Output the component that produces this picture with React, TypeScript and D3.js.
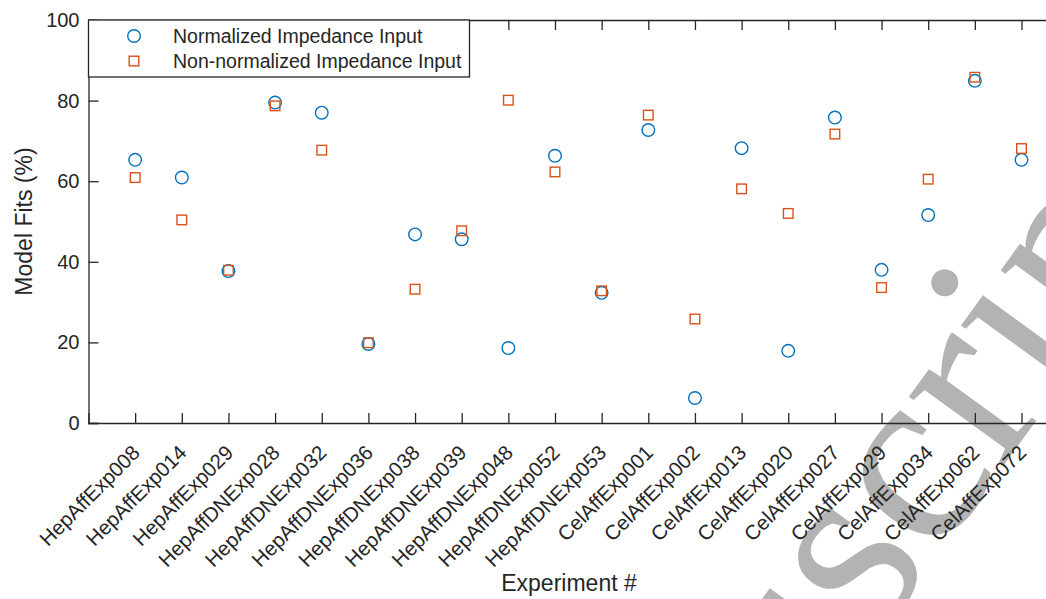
import React, { useEffect, useRef } from 'react';
import * as d3 from 'd3';

// experiment names along the x axis
const experiments = [
  'HepAffExp008', 'HepAffExp014', 'HepAffExp029', 'HepAffDNExp028', 'HepAffDNExp032',
  'HepAffDNExp036', 'HepAffDNExp038', 'HepAffDNExp039', 'HepAffDNExp048', 'HepAffDNExp052',
  'HepAffDNExp053', 'CelAffExp001', 'CelAffExp002', 'CelAffExp013', 'CelAffExp020',
  'CelAffExp027', 'CelAffExp029', 'CelAffExp034', 'CelAffExp062', 'CelAffExp072',
];

// model fits (%)
const normalizedFits = [
  65.3, 60.9, 37.7, 79.5, 77.0, 19.6, 46.8, 45.6, 18.6, 66.3,
  32.3, 72.7, 6.2, 68.2, 17.9, 75.8, 38.0, 51.6, 84.9, 65.3,
];
const nonNormalizedFits = [
  60.9, 50.4, 37.9, 78.7, 67.7, 19.9, 33.2, 47.7, 80.1, 62.3,
  32.8, 76.4, 25.8, 58.1, 52.0, 71.7, 33.6, 60.5, 85.8, 68.1,
];

const yTicks = [0, 20, 40, 60, 80, 100];
const seriesNames = ['Normalized Impedance Input', 'Non-normalized Impedance Input'];

const App = () => {
  const svgRef = useRef(null);

  useEffect(() => {
    if (!svgRef.current) return;
    const width = 1046;
    const height = 599;
    const left = 88.5;
    const top = 20;
    const bottom = 423;
    const step = 46.65;
    const axisColor = '#262626';
    const blue = '#0072BD';
    const orange = '#D95319';
    const font = '"Liberation Sans", Arial, Helvetica, sans-serif';

    const svg = d3.select(svgRef.current);
    svg.selectAll('*').remove();
    svg.attr('width', width).attr('height', height);

    // x positions: categories at 1..20, axis limits 0..21
    const xScale = d3.scaleLinear().domain([0, experiments.length + 1]).range([left, left + step * (experiments.length + 1)]);
    const yScale = d3.scaleLinear().domain([0, 100]).range([bottom, top]);

    // watermark underneath everything
    svg.append('text')
      .attr('transform', 'translate(526,1123) rotate(-54)')
      .attr('font-family', '"Liberation Serif", "Times New Roman", serif')
      .attr('font-size', 255)
      .attr('fill', '#b3b3b3')
      .text('Manuscript');

    const g = svg.append('g');

    // bottom axis with inward ticks
    const xTickVals = experiments.map((_, i) => i + 1);
    g.append('g')
      .attr('transform', `translate(0,${bottom})`)
      .call(d3.axisBottom(xScale).tickValues(xTickVals).tickSize(-10).tickFormat(() => ''))
      .call(a => a.select('.domain').attr('stroke', axisColor).attr('stroke-width', 1.3))
      .call(a => a.selectAll('line').attr('stroke', axisColor).attr('stroke-width', 1.3));

    // top axis (box) with inward ticks
    g.append('g')
      .attr('transform', `translate(0,${top})`)
      .call(d3.axisTop(xScale).tickValues(xTickVals).tickSize(-10).tickFormat(() => ''))
      .call(a => a.select('.domain').attr('stroke', axisColor).attr('stroke-width', 1.3))
      .call(a => a.selectAll('line').attr('stroke', axisColor).attr('stroke-width', 1.3));

    // left axis
    g.append('g')
      .attr('transform', `translate(${left},0)`)
      .call(d3.axisLeft(yScale).tickValues(yTicks).tickSize(-10).tickPadding(9))
      .call(a => a.select('.domain').attr('stroke', axisColor).attr('stroke-width', 1.3))
      .call(a => a.selectAll('line').attr('stroke', axisColor).attr('stroke-width', 1.3))
      .call(a => a.selectAll('text')
        .attr('fill', axisColor)
        .attr('font-family', font)
        .attr('font-size', 20));

    // rotated x tick labels
    g.append('g')
      .selectAll('text')
      .data(experiments)
      .enter().append('text')
      .attr('transform', (d, i) => `translate(${xScale(i + 1) + 6},${bottom + 31}) rotate(-45)`)
      .attr('text-anchor', 'end')
      .attr('font-family', font)
      .attr('font-size', 20.5)
      .attr('fill', axisColor)
      .text(d => d);

    // axis labels
    g.append('text')
      .attr('x', 569)
      .attr('y', 591)
      .attr('text-anchor', 'middle')
      .attr('font-family', font)
      .attr('font-size', 23)
      .attr('fill', axisColor)
      .text('Experiment #');

    g.append('text')
      .attr('transform', `translate(32,${(top + bottom) / 2}) rotate(-90)`)
      .attr('text-anchor', 'middle')
      .attr('font-family', font)
      .attr('font-size', 23)
      .attr('fill', axisColor)
      .text('Model Fits (%)');

    // normalized: open circles
    g.append('g')
      .selectAll('circle')
      .data(normalizedFits)
      .enter().append('circle')
      .attr('cx', (d, i) => xScale(i + 1))
      .attr('cy', d => yScale(d))
      .attr('r', 6.3)
      .attr('fill', 'none')
      .attr('stroke', blue)
      .attr('stroke-width', 1.4);

    // non-normalized: open squares
    const sq = 9.6;
    g.append('g')
      .selectAll('rect')
      .data(nonNormalizedFits)
      .enter().append('rect')
      .attr('x', (d, i) => xScale(i + 1) - sq / 2)
      .attr('y', d => yScale(d) - sq / 2)
      .attr('width', sq)
      .attr('height', sq)
      .attr('fill', 'none')
      .attr('stroke', orange)
      .attr('stroke-width', 1.4);

    // legend box
    const legend = g.append('g');
    legend.append('rect')
      .attr('x', left)
      .attr('y', top)
      .attr('width', 381)
      .attr('height', 57)
      .attr('fill', 'white')
      .attr('stroke', axisColor)
      .attr('stroke-width', 1.3);

    const rowY = [36, 61];
    legend.append('circle')
      .attr('cx', 134).attr('cy', rowY[0]).attr('r', 6.3)
      .attr('fill', 'none').attr('stroke', blue).attr('stroke-width', 1.4);
    legend.append('rect')
      .attr('x', 134 - sq / 2).attr('y', rowY[1] - sq / 2).attr('width', sq).attr('height', sq)
      .attr('fill', 'none').attr('stroke', orange).attr('stroke-width', 1.4);

    legend.selectAll('.legend-label')
      .data(seriesNames)
      .enter().append('text')
      .attr('class', 'legend-label')
      .attr('x', 173)
      .attr('y', (d, i) => rowY[i])
      .attr('dy', '0.35em')
      .attr('font-family', font)
      .attr('font-size', 19.5)
      .attr('fill', axisColor)
      .text(d => d);
  }, []);

  return (
    <div style={{ position: 'absolute', left: 0, top: 0 }}>
      <svg ref={svgRef} style={{ display: 'block' }}></svg>
    </div>
  );
};

export default App;
